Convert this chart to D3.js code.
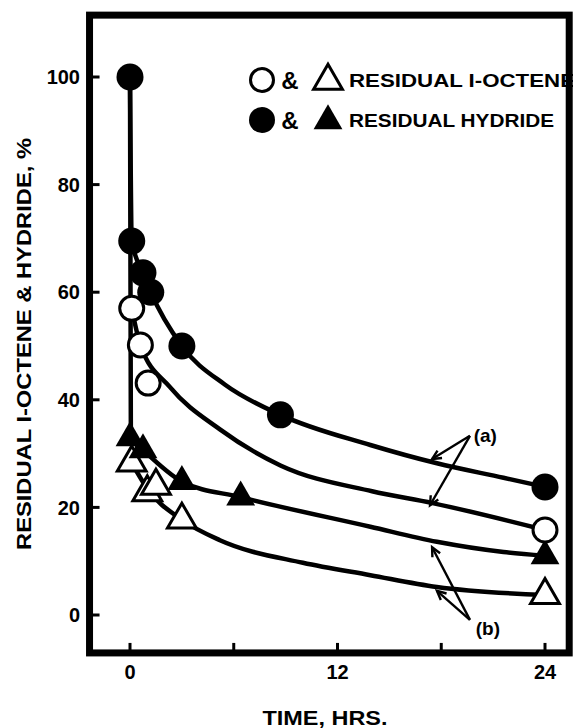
<!DOCTYPE html>
<html>
<head>
<meta charset="utf-8">
<script src="https://cdn.jsdelivr.net/npm/d3@7"></script>
<style>
  body { margin: 0; background: #fff; }
  text { font-family: "Liberation Sans", Arial, sans-serif; font-weight: bold; fill: #000; }
</style>
</head>
<body>
<svg id="chart" width="573" height="728"></svg>
<script>
// measured points, [time in hrs, residual %]
const hydrideA = [[0, 100], [0.1, 69.5], [0.75, 63.6], [1.2, 60], [3, 50], [8.7, 37.2], [24, 23.8]];
const octeneA = [[0.1, 57], [0.6, 50.2], [1.05, 43.1], [24, 15.8]];
const hydrideB = [[0, 32.9], [0.75, 30.7], [3, 24.8], [6.4, 21.9], [24, 11]];
const octeneB = [[0.1, 28.3], [1, 22.8], [1.5, 24], [3, 17.7], [24, 3.7]];

// hand drawn curves through them
const curveHydrideA = [[0, 100], [0.1, 69.5], [0.75, 63.6], [1.2, 60], [3, 50], [5.5, 42.8], [8.7, 37.2], [13.9, 31.6], [17.75, 28.2], [21.6, 25.5], [24, 23.8]];
const curveOcteneA = [[0.1, 57], [0.6, 50.2], [2.3, 42.4], [5.2, 34.5], [8.7, 27.8], [14, 23], [17.5, 20.8], [24, 15.8]];
const curveHydrideB = [[0, 100], [0.05, 32.9], [0.75, 30.7], [3, 24.8], [6.4, 21.9], [13.9, 16.4], [17.75, 13.6], [21.6, 11.7], [24, 11]];
const curveOcteneB = [[0.1, 28.3], [1, 23.5], [3, 17.7], [5.2, 13.9], [10, 9.7], [13.9, 7.4], [17.75, 5.2], [24, 3.7]];

const yTicks = [0, 20, 40, 60, 80, 100];
const xTicks = [0, 6, 12, 18, 24];
const xTickLabels = [0, 12, 24];

const legendOctene = "RESIDUAL I-OCTENE";
const legendHydride = "RESIDUAL HYDRIDE";
const xTitle = "TIME, HRS.";
const yTitle = "RESIDUAL I-OCTENE & HYDRIDE, %";

// arrow call-outs: label, label spot, arrow start, arrow tips
const calloutA = {label: "(a)", at: [20.55, 33.4], from: [19.66, 33.3], tips: [[17.47, 29.0], [17.35, 20.4]]};
const calloutB = {label: "(b)", at: [20.7, -2.4], from: [19.66, -0.9], tips: [[17.47, 12.6], [17.75, 4.5]]};

const svg = d3.select("#chart");
const x = d3.scaleLinear().domain([0, 24]).range([130, 545]);
const y = d3.scaleLinear().domain([0, 100]).range([615, 77]);

// frame
const fx0 = x(-2.34), fx1 = x(25.4), fy0 = y(111.5), fy1 = y(-7.05);

const line = d3.line().x(d => x(d[0])).y(d => y(d[1])).curve(d3.curveMonotoneX);

[curveHydrideA, curveOcteneA, curveHydrideB, curveOcteneB].forEach(c => {
    svg.append("path")
        .attr("d", line(c))
        .attr("fill", "none")
        .attr("stroke", "#000")
        .attr("stroke-width", 4.5)
        .attr("stroke-linejoin", "round");
});

// call-outs
function arrow(from, tip) {
    const x0 = x(from[0]), y0 = y(from[1]), x1 = x(tip[0]), y1 = y(tip[1]);
    const a = Math.atan2(y1 - y0, x1 - x0);
    const len = 10, sp = 0.45;
    svg.append("line")
        .attr("x1", x0).attr("y1", y0).attr("x2", x1).attr("y2", y1)
        .attr("stroke", "#000").attr("stroke-width", 2.4);
    svg.append("path")
        .attr("d", "M" + (x1 - len * Math.cos(a - sp)) + "," + (y1 - len * Math.sin(a - sp)) +
            "L" + x1 + "," + y1 +
            "L" + (x1 - len * Math.cos(a + sp)) + "," + (y1 - len * Math.sin(a + sp)))
        .attr("fill", "none").attr("stroke", "#000").attr("stroke-width", 2.4);
}
[calloutA, calloutB].forEach(c => {
    c.tips.forEach(t => arrow(c.from, t));
    svg.append("text")
        .attr("x", x(c.at[0])).attr("y", y(c.at[1]))
        .attr("dy", "0.35em")
        .attr("text-anchor", "middle")
        .attr("font-size", 19)
        .text(c.label);
});

// markers
const r = 13.5;
const tri = d3.symbol().type(d3.symbolTriangle).size(360);

function circles(data, filled) {
    svg.append("g").selectAll("circle").data(data).enter().append("circle")
        .attr("cx", d => x(d[0])).attr("cy", d => y(d[1]))
        .attr("r", filled ? r : r - 1.5)
        .attr("fill", filled ? "#000" : "#fff")
        .attr("stroke", "#000").attr("stroke-width", filled ? 0 : 3);
}
function triangles(data, filled) {
    svg.append("g").selectAll("path").data(data).enter().append("path")
        .attr("d", tri)
        .attr("transform", d => "translate(" + x(d[0]) + "," + y(d[1]) + ")")
        .attr("fill", filled ? "#000" : "#fff")
        .attr("stroke", "#000").attr("stroke-width", filled ? 0 : 3)
        .attr("stroke-linejoin", "miter");
}
triangles(octeneB, false);
triangles(hydrideB, true);
circles(octeneA, false);
circles(hydrideA, true);

// legend
const legend = [
    {y: 80, filled: false, text: legendOctene, len: 226},
    {y: 120, filled: true, text: legendHydride, len: 205}
];
legend.forEach(l => {
    svg.append("circle")
        .attr("cx", 262).attr("cy", l.y)
        .attr("r", l.filled ? 13 : 11.5)
        .attr("fill", l.filled ? "#000" : "#fff")
        .attr("stroke", "#000").attr("stroke-width", l.filled ? 0 : 3);
    svg.append("text")
        .attr("x", 290).attr("y", l.y + 8.5)
        .attr("text-anchor", "middle")
        .attr("font-size", 24)
        .text("&");
    svg.append("path")
        .attr("d", tri)
        .attr("transform", "translate(328," + (l.y + 1) + ")")
        .attr("fill", l.filled ? "#000" : "#fff")
        .attr("stroke", "#000").attr("stroke-width", l.filled ? 0 : 3);
    svg.append("text")
        .attr("x", 349).attr("y", l.y + 7)
        .attr("font-size", 19)
        .attr("textLength", l.len)
        .attr("lengthAdjust", "spacingAndGlyphs")
        .text(l.text);
});

// frame and ticks
svg.append("rect")
    .attr("x", fx0).attr("y", fy0)
    .attr("width", fx1 - fx0).attr("height", fy1 - fy0)
    .attr("fill", "none").attr("stroke", "#000").attr("stroke-width", 7);

svg.append("g").selectAll("line").data(yTicks).enter().append("line")
    .attr("x1", fx0).attr("x2", fx0 + 10)
    .attr("y1", d => y(d)).attr("y2", d => y(d))
    .attr("stroke", "#000").attr("stroke-width", 3);
svg.append("g").selectAll("text").data(yTicks).enter().append("text")
    .attr("x", 80).attr("y", d => y(d))
    .attr("dy", "0.36em")
    .attr("text-anchor", "end")
    .attr("font-size", 20)
    .text(d => d);

svg.append("g").selectAll("line").data(xTicks).enter().append("line")
    .attr("x1", d => x(d)).attr("x2", d => x(d))
    .attr("y1", fy1).attr("y2", fy1 - 10)
    .attr("stroke", "#000").attr("stroke-width", 3);
svg.append("g").selectAll("text").data(xTickLabels).enter().append("text")
    .attr("x", d => x(d)).attr("y", 679)
    .attr("text-anchor", "middle")
    .attr("font-size", 20)
    .text(d => d);

// axis titles
svg.append("text")
    .attr("x", 325).attr("y", 725)
    .attr("text-anchor", "middle")
    .attr("font-size", 21)
    .attr("textLength", 125)
    .attr("lengthAdjust", "spacingAndGlyphs")
    .text(xTitle);

svg.append("text")
    .attr("transform", "translate(31,344) rotate(-90)")
    .attr("text-anchor", "middle")
    .attr("font-size", 21)
    .attr("textLength", 412)
    .attr("lengthAdjust", "spacingAndGlyphs")
    .text(yTitle);
</script>
</body>
</html>
